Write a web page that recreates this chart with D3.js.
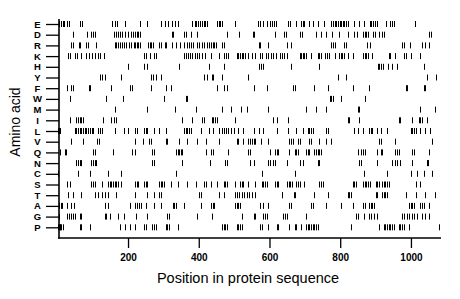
<!DOCTYPE html>
<html><head><meta charset="utf-8">
<script src="https://cdn.jsdelivr.net/npm/d3@7"></script>
<style>
html,body{margin:0;padding:0;background:#fff;}
svg{display:block;font-family:"Liberation Sans",Arial,Helvetica,sans-serif;}
</style></head>
<body>
<svg id="chart" width="460" height="299"></svg>
<script>
const aminoAcids = ["E","D","R","K","H","Y","F","W","M","I","L","V","Q","N","C","S","T","A","G","P"];
const xTicks = [200,400,600,800,1000];
const seqLength = 1085;

const posE = [6,10,15,20,28,33,65,70,155,162,169,191,234,255,294,304,313,323,333,342,382,388,392,398,403,408,414,419,424,451,456,460,465,503,567,572,583,594,602,607,613,619,652,658,675,689,694,699,713,722,737,755,774,779,784,788,793,798,803,807,812,817,821,840,854,867,883,887,892,897,904,930,942,947,952,1011];
const posD = [44,85,96,102,108,160,166,172,177,183,191,200,208,215,220,225,229,234,323,328,358,364,379,396,481,515,553,557,616,641,647,687,691,732,746,760,777,796,821,840,847,865,870,874,879,892,897,909,919,923,1051,1057];
const posR = [40,44,60,65,82,87,110,162,167,172,177,183,189,194,202,209,217,220,225,229,234,257,261,266,271,288,292,304,308,323,335,347,357,368,373,377,385,396,402,408,415,423,429,435,440,444,449,465,472,569,573,597,650,661,774,779,784,812,817,876,883,975,980,996,1030,1041,1050];
const posK = [30,36,50,56,68,80,90,98,106,114,122,132,245,250,262,273,278,358,363,370,376,382,388,395,402,410,418,435,456,470,477,484,507,512,517,522,526,531,538,550,559,573,578,590,597,604,611,619,630,635,641,649,685,689,694,699,704,718,737,741,746,758,763,768,784,796,801,805,810,821,836,865,870,874,879,890,937,942,956,980,985,999,1027];
const posH = [200,245,255,344,429,472,569,575,583,661,741,906,910,915,921,934,947,960,1036];
const posY = [120,126,134,181,266,272,279,292,414,423,437,441,465,540,793,817,1045,1070];
const posF = [28,40,44,89,93,153,205,210,264,307,321,451,472,479,555,592,666,672,727,765,836,881,985,989,1036,1041];
const posW = [35,139,186,302,363,368,770,774,779,803,871];
const posM = [162,255,332,391,465,490,519,536,597,704,732,760,850,854,1027,1069];
const posI = [35,54,59,63,68,73,129,153,160,167,354,382,410,415,437,441,446,451,503,611,620,652,821,826,854,966,970,1003,1022,1027,1032,1046];
const posL = [3,5,7,49,54,59,63,68,73,77,82,87,92,97,101,115,120,126,163,190,200,220,225,245,250,255,274,288,307,358,363,368,373,377,406,429,441,458,465,472,477,484,490,500,512,526,555,569,583,620,652,675,694,708,713,718,722,760,765,840,850,865,881,886,890,904,914,933,999,1003,1008,1013,1027,1041,1055];
const posV = [38,73,113,118,219,241,259,264,307,311,344,368,396,420,458,507,512,526,540,545,550,555,559,575,597,656,661,666,680,685,713,718,741,760,774,909,914,956,1060];
const posQ = [9,21,26,101,106,158,210,220,269,274,335,340,344,349,354,420,435,440,484,540,545,602,616,621,625,656,671,675,680,704,708,713,727,732,736,741,746,850,859,865,870,904,914,919,956,961,966,1003,1008,1051];
const posN = [54,59,63,68,96,101,106,110,269,274,354,432,474,479,545,555,597,602,611,616,650,685,694,737,741,854,859,904,947,956,961,970,1003,1044,1046,1048];
const posC = [3,59,92,143,181,335,578,671,867,933,999,1018,1036,1060];
const posS = [28,35,96,101,106,125,143,148,153,158,162,167,172,181,220,225,229,245,250,255,288,292,297,302,321,340,368,392,415,420,435,451,470,474,479,503,517,522,526,540,559,578,583,588,592,616,621,625,650,655,659,664,675,680,685,699,741,746,751,836,840,845,865,870,874,879,884,900,904,909,919,923,928,933,937,1013,1027];
const posT = [30,44,68,106,115,125,134,143,167,220,255,274,288,292,401,406,456,472,503,507,515,522,528,536,543,550,559,634,636,668,672,727,765,821,826,831,900,904,919,923,928,933,985,1013,1041,1069];
const posA = [5,10,14,28,40,47,134,143,205,220,226,231,236,250,274,292,326,330,335,358,406,435,440,444,503,507,512,517,573,583,597,656,661,718,722,760,803,836,865,871,881,886,890,895,994,999,1003,1008,1027,1032,1036,1051];
const posG = [5,28,33,38,43,49,63,68,134,139,148,172,190,222,255,311,316,396,437,522,555,559,583,588,592,639,644,650,704,845,850,866,880,886,895,905,975,980,989,994,1003,1008,1018,1032,1041,1050];
const posP = [3,5,7,9,11,15,63,68,92,177,191,205,220,245,250,269,274,279,307,311,316,340,465,470,474,479,507,512,517,522,573,578,597,621,625,656,671,675,689,704,708,713,718,722,727,732,736,831,909,923,928,933,937,942,947,952,966,970,975,980,994,1079];

const positions = {E:posE,D:posD,R:posR,K:posK,H:posH,Y:posY,F:posF,W:posW,M:posM,I:posI,L:posL,V:posV,Q:posQ,N:posN,C:posC,S:posS,T:posT,A:posA,G:posG,P:posP};

const svg = d3.select("#chart");
const x = d3.scaleLinear().domain([0, seqLength]).range([57.3, 441]);
const y = d3.scalePoint().domain(aminoAcids).range([24, 227.3]);
const axisX0 = 59, axisY0 = 238;

// marks
const marks = [];
aminoAcids.forEach(a => positions[a].forEach(p => marks.push({a, p})));
svg.append("g").selectAll("line").data(marks).join("line")
  .attr("x1", d => Math.round(x(d.p)) + 0.5)
  .attr("x2", d => Math.round(x(d.p)) + 0.5)
  .attr("y1", d => y(d.a) - 3)
  .attr("y2", d => y(d.a) + 3)
  .attr("stroke", "#000").attr("stroke-width", 1);

// y axis
const yAxis = svg.append("g").attr("transform", `translate(${axisX0},0)`)
  .call(d3.axisLeft(y).tickSize(13).tickPadding(0));
yAxis.select(".domain").remove();
yAxis.selectAll(".tick line").attr("stroke", "#000").attr("stroke-width", 1.3);
yAxis.selectAll(".tick text").attr("x", -21.5).attr("text-anchor", "middle")
  .attr("font-size", 9.5).attr("font-weight", "bold").attr("fill", "#000")
  .attr("font-family", "Liberation Sans, Arial, sans-serif");
svg.append("line").attr("x1", axisX0).attr("x2", axisX0).attr("y1", 19).attr("y2", axisY0 + 0.8)
  .attr("stroke", "#000").attr("stroke-width", 1.6);

// x axis
const xAxis = svg.append("g").attr("transform", `translate(0,${axisY0})`)
  .call(d3.axisBottom(x).tickValues(xTicks).tickSize(10).tickPadding(6).tickFormat(d3.format("d")));
xAxis.select(".domain").remove();
xAxis.selectAll(".tick line").attr("stroke", "#000").attr("stroke-width", 1.3);
xAxis.selectAll(".tick text").attr("font-size", 10).attr("font-weight", "bold").attr("fill", "#000")
  .attr("font-family", "Liberation Sans, Arial, sans-serif");
svg.append("line").attr("x1", axisX0 - 0.8).attr("x2", 441).attr("y1", axisY0).attr("y2", axisY0)
  .attr("stroke", "#000").attr("stroke-width", 1.6);

// titles
svg.append("text").attr("x", 248).attr("y", 283).attr("text-anchor", "middle")
  .attr("font-size", 14.5).attr("fill", "#000").text("Position in protein sequence");
svg.append("text").attr("transform", "translate(20,122) rotate(-90)").attr("text-anchor", "middle")
  .attr("font-size", 14).attr("fill", "#000").text("Amino acid");
</script>
</body></html>
